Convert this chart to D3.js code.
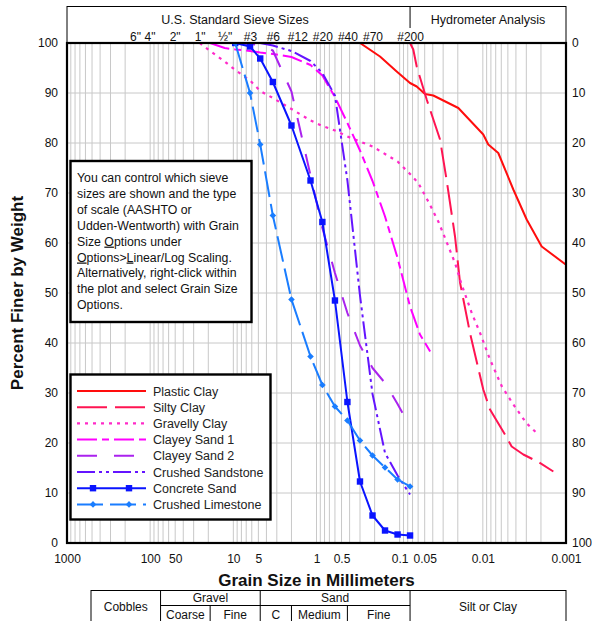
<!DOCTYPE html>
<html><head><meta charset="utf-8">
<script src="https://cdn.jsdelivr.net/npm/d3@7"></script>
<style>
body{margin:0;background:#fff;}
text{font-family:"Liberation Sans",Arial,sans-serif;}
</style>
</head><body>
<svg id="c" width="592" height="621"></svg>
<script>
// ---------- DATA ----------
const sieveLabels = ['6"','4"','2"','1"','\u00BD"','#3','#6','#12','#20','#40','#70','#200'];
const sieveSizes  = [152.4,101.6,50.8,25.4,12.7,6.3,3.35,1.7,0.85,0.425,0.212,0.075];
const xTickValues = [1000,100,50,10,5,1,0.5,0.1,0.05,0.01,0.001];
const yTickValues = [0,10,20,30,40,50,60,70,80,90,100];

const seriesNames = ['Plastic Clay','Silty Clay','Gravelly Clay','Clayey Sand 1','Clayey Sand 2','Crushed Sandstone','Concrete Sand','Crushed Limestone'];

// [grain size mm, percent finer]
const plasticClay = [[0.3,100],[0.1724,97.3],[0.1086,94.3],[0.0751,92.0],[0.0624,91.3],[0.0496,89.8],[0.0394,89.5],[0.0197,87],[0.00988,81.7],[0.0086,79.7],[0.00652,78],[0.0043,70.7],[0.00297,64.7],[0.00196,59.3],[0.00101,55.7]];
const siltyClay = [[2.0,100],[0.075,100],[0.0686,98.7],[0.0624,95.3],[0.0473,88.7],[0.0327,80.7],[0.0272,72.5],[0.0216,61.3],[0.0188,52.1],[0.01427,42],[0.00988,30.7],[0.0082,26.7],[0.00542,21.7],[0.0045,19.3],[0.00326,17.7],[0.00215,16.2],[0.00142,14.3]];
const gravellyClay = [[25.4,100],[19,98.4],[12.7,96.3],[9.5,94.6],[6.3,92.5],[4.75,90.4],[3.35,89],[2.0,86.8],[1.18,84.5],[0.85,83.4],[0.6,82.5],[0.425,81.3],[0.3,80.3],[0.212,79.3],[0.15,77.8],[0.106,76.3],[0.075,73.8],[0.0597,72],[0.0453,68.3],[0.0343,64.3],[0.0285,61],[0.0216,56],[0.018,51.7],[0.0136,46],[0.0108,42],[0.0082,36.7],[0.0059,31.3],[0.0043,27.7],[0.003,24],[0.00225,22]];
const clayeySand1 = [[19,100],[12.7,99],[9.5,98.7],[6.3,98.4],[4.75,98.1],[3.35,97.8],[2.0,97.2],[1.18,95.6],[0.85,93.5],[0.6,89.2],[0.425,84],[0.3,78.5],[0.212,72.4],[0.15,65.3],[0.106,57],[0.075,47.3],[0.057,41.7],[0.043,38.3]];
const clayeySand2 = [[9.5,100],[6.3,99.8],[4.75,99.6],[3.35,98.5],[2.0,90.3],[1.18,73.5],[0.85,63],[0.6,54],[0.425,46],[0.3,39.5],[0.212,35],[0.15,32],[0.106,27.8],[0.075,23.3]];
const crushedSandstone = [[4.75,100],[3.35,99.5],[2.0,98.4],[1.18,96.4],[0.85,94],[0.6,89.5],[0.425,72.5],[0.3,49.5],[0.212,29.8],[0.15,18],[0.106,13.5],[0.075,9.7]];
const concreteSand = [[9.5,100],[6.3,99.3],[4.75,96.9],[3.35,92.2],[2.0,83.5],[1.18,72.5],[0.85,64.2],[0.6,48.5],[0.425,28.2],[0.3,12.3],[0.212,5.5],[0.15,2.5],[0.106,1.7],[0.075,1.5]];
const crushedLimestone = [[9.5,100],[6.3,90.0],[4.75,79.7],[3.35,65.5],[2.0,48.7],[1.18,37.3],[0.85,31.6],[0.6,27.3],[0.425,24.5],[0.3,20.5],[0.212,17.5],[0.15,15.1],[0.106,12.7],[0.075,11.3]];

const noteLines = [
  ['You can control which sieve'],
  ['sizes are shown and the type'],
  ['of scale (AASHTO or'],
  ['Udden-Wentworth) with Grain'],
  ['Size ',{u:'O'},'ptions under'],
  [{u:'O'},'ptions>',{u:'L'},'inear/Log Scaling.'],
  ['Alternatively, right-click within'],
  ['the plot and select Grain Size'],
  ['Options.']
];

const soilGroups = ['Cobbles','Gravel','Sand','Silt or Clay'];
const soilBounds = [75,4.75,0.075];           // mm
const gravelSub = ['Coarse','Fine'], gravelSubBound = [19];
const sandSub = ['C','Medium','Fine'], sandSubBounds = [2.0,0.425];

// ---------- STYLE ----------
const seriesStyle = {
  'Plastic Clay':      {color:'#ff0d0d', dash:null, w:2},
  'Silty Clay':        {color:'#ff1452', dash:'30,8', w:2},
  'Gravelly Clay':     {color:'#ff2ac8', dash:'3,5', w:2.2},
  'Clayey Sand 1':     {color:'#ff00ff', dash:'20,5,7,5', w:2},
  'Clayey Sand 2':     {color:'#aa22ee', dash:'20,17', w:2},
  'Crushed Sandstone': {color:'#6414ff', dash:'18,4,3,4,3,4', w:2},
  'Concrete Sand':     {color:'#0a14ff', dash:null, w:2, marker:'square'},
  'Crushed Limestone': {color:'#1a7dff', dash:'26,7', w:2, marker:'diamond'}
};
const seriesData = [plasticClay,siltyClay,gravellyClay,clayeySand1,clayeySand2,crushedSandstone,concreteSand,crushedLimestone];

// ---------- CHART ----------
const m = {left:67,right:566,top:43,bottom:543};
const x = d3.scaleLog().domain([1000,0.001]).range([m.left,m.right]);
const y = d3.scaleLinear().domain([0,100]).range([m.bottom,m.top]);
const yR = d3.scaleLinear().domain([0,100]).range([m.top,m.bottom]);
const svg = d3.select('#c');

svg.append('defs').append('clipPath').attr('id','clip').append('rect')
  .attr('x',m.left).attr('y',m.top).attr('width',m.right-m.left).attr('height',m.bottom-m.top);

// grid
const minor = [];
for (let e=-3;e<=2;e++) for (let j=1;j<=9;j++){ const v=+(j*Math.pow(10,e)).toPrecision(6); if(v>0.001&&v<1000) minor.push(v); }
const grid = svg.append('g').attr('stroke','#c8c8c8').attr('stroke-width',1);
grid.selectAll('line.v').data(minor).join('line').attr('class','v')
  .attr('x1',d=>x(d)).attr('x2',d=>x(d)).attr('y1',m.top).attr('y2',m.bottom);
grid.selectAll('line.h').data(yTickValues).join('line').attr('class','h')
  .attr('x1',m.left).attr('x2',m.right).attr('y1',d=>y(d)).attr('y2',d=>y(d));

// series
const line = d3.line().x(d=>x(d[0])).y(d=>y(d[1]));
const plotG = svg.append('g').attr('clip-path','url(#clip)');
seriesNames.forEach((name,i)=>{
  const st = seriesStyle[name], data = seriesData[i];
  plotG.append('path').datum(data).attr('d',line).attr('fill','none')
    .attr('stroke',st.color).attr('stroke-width',st.w)
    .attr('stroke-dasharray',st.dash).attr('stroke-linejoin','round');
  if (st.marker==='square'){
    plotG.selectAll(null).data(data).join('rect')
      .attr('x',d=>x(d[0])-3.2).attr('y',d=>y(d[1])-3.2).attr('width',6.4).attr('height',6.4).attr('fill',st.color);
  } else if (st.marker==='diamond'){
    plotG.selectAll(null).data(data).join('path')
      .attr('d',d=>{const cx=x(d[0]),cy=y(d[1]),r=3.3;return `M${cx},${cy-r}L${cx+r},${cy}L${cx},${cy+r}L${cx-r},${cy}Z`;})
      .attr('fill',st.color);
  }
});

// plot border
svg.append('rect').attr('x',m.left).attr('y',m.top).attr('width',m.right-m.left).attr('height',m.bottom-m.top)
  .attr('fill','none').attr('stroke','#000').attr('stroke-width',2.2);

// axes
const styleAxis = g => { g.select('.domain').remove(); g.selectAll('text').attr('font-size',12).attr('fill','#111').attr('font-family','"Liberation Sans",Arial,sans-serif'); };
svg.append('g').attr('transform',`translate(${m.left},0)`)
  .call(d3.axisLeft(y).tickValues(yTickValues).tickSize(0).tickPadding(9).tickFormat(d3.format('d'))).call(styleAxis);
svg.append('g').attr('transform',`translate(${m.right},0)`)
  .call(d3.axisRight(yR).tickValues(yTickValues).tickSize(0).tickPadding(6).tickFormat(d3.format('d'))).call(styleAxis);
svg.append('g').attr('transform',`translate(0,${m.bottom})`)
  .call(d3.axisBottom(x).tickValues(xTickValues).tickSize(0).tickPadding(11).tickFormat(d=>String(d))).call(styleAxis);
svg.append('g').attr('transform',`translate(0,${m.top})`)
  .call(d3.axisTop(x).tickValues(sieveSizes).tickSize(0).tickPadding(2).tickFormat((d,i)=>sieveLabels[i])).call(styleAxis);

// header box
const hdr = svg.append('g').attr('stroke','#000').attr('stroke-width',1);
hdr.append('line').attr('x1',m.left).attr('x2',m.right).attr('y1',6.5).attr('y2',6.5);
hdr.append('line').attr('x1',m.left).attr('x2',m.left).attr('y1',6).attr('y2',m.top);
hdr.append('line').attr('x1',m.right).attr('x2',m.right).attr('y1',6).attr('y2',m.top);
hdr.append('line').attr('x1',x(0.075)).attr('x2',x(0.075)).attr('y1',6).attr('y2',28);
svg.append('text').attr('x',235).attr('y',24).attr('text-anchor','middle').attr('font-size',12.5).attr('fill','#111').text('U.S. Standard Sieve Sizes');
svg.append('text').attr('x',(x(0.075)+m.right)/2).attr('y',24).attr('text-anchor','middle').attr('font-size',12.5).attr('fill','#111').text('Hydrometer Analysis');

// axis titles
svg.append('text').attr('transform','translate(23,293) rotate(-90)').attr('text-anchor','middle')
  .attr('font-size',17).attr('font-weight','bold').attr('fill','#111').text('Percent Finer by Weight');
svg.append('text').attr('x',(m.left+m.right)/2).attr('y',586).attr('text-anchor','middle')
  .attr('font-size',17).attr('font-weight','bold').attr('fill','#111').text('Grain Size in Millimeters');

// note box
svg.append('rect').attr('x',70.5).attr('y',161).attr('width',181).attr('height',161)
  .attr('fill','#fff').attr('stroke','#000').attr('stroke-width',2.4);
noteLines.forEach((parts,i)=>{
  const t = svg.append('text').attr('x',77).attr('y',182+i*15.9).attr('font-size',12.3).attr('fill','#111');
  parts.forEach(p=>{
    if (typeof p==='string') t.append('tspan').text(p);
    else t.append('tspan').attr('text-decoration','underline').text(p.u);
  });
});

// legend
svg.append('rect').attr('x',70.5).attr('y',374.5).attr('width',200).attr('height',145)
  .attr('fill','#fff').attr('stroke','#000').attr('stroke-width',2.4);
seriesNames.forEach((name,i)=>{
  const st = seriesStyle[name], ly = 391 + i*16.2;
  svg.append('line').attr('x1',77).attr('x2',146).attr('y1',ly).attr('y2',ly)
    .attr('stroke',st.color).attr('stroke-width',st.w).attr('stroke-dasharray',st.dash);
  [93,129].forEach(mx=>{
    if (st.marker==='square') svg.append('rect').attr('x',mx-3.2).attr('y',ly-3.2).attr('width',6.4).attr('height',6.4).attr('fill',st.color);
    else if (st.marker==='diamond') svg.append('path').attr('d',`M${mx},${ly-3.3}L${mx+3.3},${ly}L${mx},${ly+3.3}L${mx-3.3},${ly}Z`).attr('fill',st.color);
  });
  svg.append('text').attr('x',153).attr('y',ly).attr('dy','0.36em').attr('font-size',12.5).attr('fill','#222').text(name);
});

// soil classification table
const tL = 91, tT = 590.5, tM = 605.5, tB = 623;
const xb = soilBounds.map(x);
const tg = svg.append('g').attr('stroke','#000').attr('stroke-width',1).attr('fill','none');
tg.append('rect').attr('x',tL).attr('y',tT).attr('width',m.right-tL).attr('height',tB-tT);
xb.forEach(v=>tg.append('line').attr('x1',v).attr('x2',v).attr('y1',tT).attr('y2',tB));
tg.append('line').attr('x1',xb[0]).attr('x2',xb[2]).attr('y1',tM).attr('y2',tM);
[...gravelSubBound,...sandSubBounds].map(x).forEach(v=>tg.append('line').attr('x1',v).attr('x2',v).attr('y1',tM).attr('y2',tB));
const tText = (cx,cy,s)=>svg.append('text').attr('x',cx).attr('y',cy).attr('text-anchor','middle').attr('font-size',12).attr('fill','#111').text(s);
tText((tL+xb[0])/2,611,soilGroups[0]);
tText((xb[0]+xb[1])/2,602,soilGroups[1]);
tText((xb[1]+xb[2])/2,602,soilGroups[2]);
tText((xb[2]+m.right)/2,611,soilGroups[3]);
const gB = [xb[0],x(gravelSubBound[0]),xb[1]];
gravelSub.forEach((s,i)=>tText((gB[i]+gB[i+1])/2,619,s));
const sB = [xb[1],x(sandSubBounds[0]),x(sandSubBounds[1]),xb[2]];
sandSub.forEach((s,i)=>tText((sB[i]+sB[i+1])/2,619,s));
</script>
</body></html>
